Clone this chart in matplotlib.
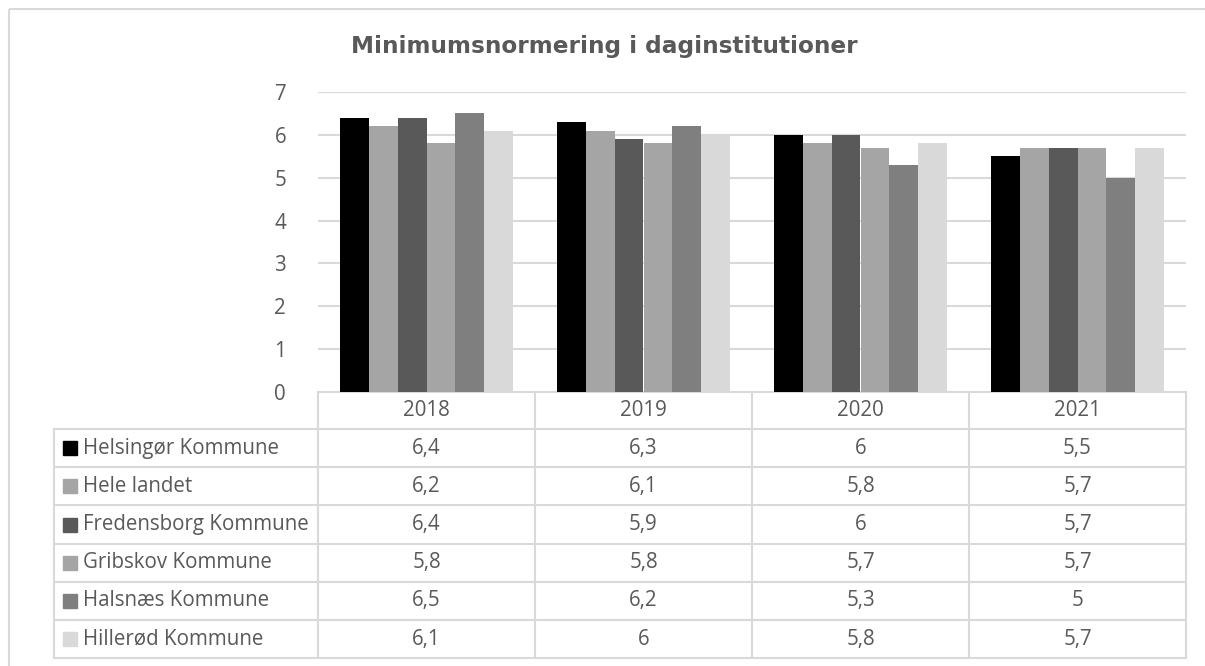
import numpy as np
import matplotlib.pyplot as plt
from matplotlib.patches import Rectangle

years = ['2018', '2019', '2020', '2021']
series = ['Helsingør Kommune', 'Hele landet', 'Fredensborg Kommune',
          'Gribskov Kommune', 'Halsnæs Kommune', 'Hillerød Kommune']
values = [
    [6.4, 6.3, 6.0, 5.5],
    [6.2, 6.1, 5.8, 5.7],
    [6.4, 5.9, 6.0, 5.7],
    [5.8, 5.8, 5.7, 5.7],
    [6.5, 6.2, 5.3, 5.0],
    [6.1, 6.0, 5.8, 5.7],
]
colors = ['#000000', '#a5a5a5', '#595959', '#a5a5a5', '#7f7f7f', '#d9d9d9']

TXT = '#595959'
GRID = '#d9d9d9'
W, H = 1205, 666
FONT = 'Open Sans'
FS = 14.8

fig = plt.figure(figsize=(W / 100, H / 100), dpi=100)

# overlay in pixel coords for frame and table
ov = fig.add_axes([0, 0, 1, 1])
ov.set_xlim(0, W)
ov.set_ylim(H, 0)
ov.axis('off')
ov.add_patch(Rectangle((9, 9), W, H, fill=False, edgecolor=GRID, lw=1.5))

# plot area
x0, x1, ytop, ybot = 318, 1186, 92, 392
ax = fig.add_axes([x0 / W, (H - ybot) / H, (x1 - x0) / W, (ybot - ytop) / H])
n = len(series)
bw = 0.8 / n
x = np.arange(len(years))
for i, (name, vals) in enumerate(zip(series, values)):
    ax.bar(x - 0.4 + bw * (i + 0.5), vals, width=bw, color=colors[i], zorder=3, label=name)
ax.set_xlim(-0.5, len(years) - 0.5)
ax.set_ylim(0, 7)
ax.set_yticks(range(8))
ax.set_xticks([])
for s in ax.spines.values():
    s.set_visible(False)
ax.yaxis.grid(True, color=GRID, lw=1.5, zorder=0)
ax.tick_params(axis='y', length=0, pad=23, labelsize=FS, labelcolor=TXT)
for lab in ax.get_yticklabels():
    lab.set_fontfamily(FONT)

fig.text(604 / W, 1 - 47 / H, 'Minimumsnormering i daginstitutioner', ha='center', va='center',
         fontsize=16.7, fontweight='bold', color=TXT, family='DejaVu Sans')

# data table
tl = 54
rows_y = [392, 429] + [429 + 38.2 * (k + 1) for k in range(n)]
colw = (x1 - x0) / len(years)
lk = dict(color=GRID, lw=1.5)
ov.plot([x0, x1], [rows_y[0], rows_y[0]], **lk)
for j in range(len(years) + 1):
    ov.plot([x0 + j * colw] * 2, [rows_y[0], rows_y[-1]], **lk)
for yy in rows_y[1:]:
    ov.plot([tl, x1], [yy, yy], **lk)
ov.plot([tl, tl], [rows_y[1], rows_y[-1]], **lk)
for j, yr in enumerate(years):
    ov.text(x0 + (j + 0.5) * colw, (rows_y[0] + rows_y[1]) / 2, yr, ha='center', va='center',
            fontsize=FS, color=TXT, family=FONT)
for i, name in enumerate(series):
    yc = (rows_y[i + 1] + rows_y[i + 2]) / 2
    ov.add_patch(Rectangle((63, yc - 7), 14, 14, color=colors[i]))
    ov.text(83, yc, name, ha='left', va='center', fontsize=FS, color=TXT, family=FONT)
    for j, v in enumerate(values[i]):
        s = ('%g' % v).replace('.', ',')
        ov.text(x0 + (j + 0.5) * colw, yc, s, ha='center', va='center',
                fontsize=FS, color=TXT, family=FONT)

fig.savefig('out.png', dpi=100)
